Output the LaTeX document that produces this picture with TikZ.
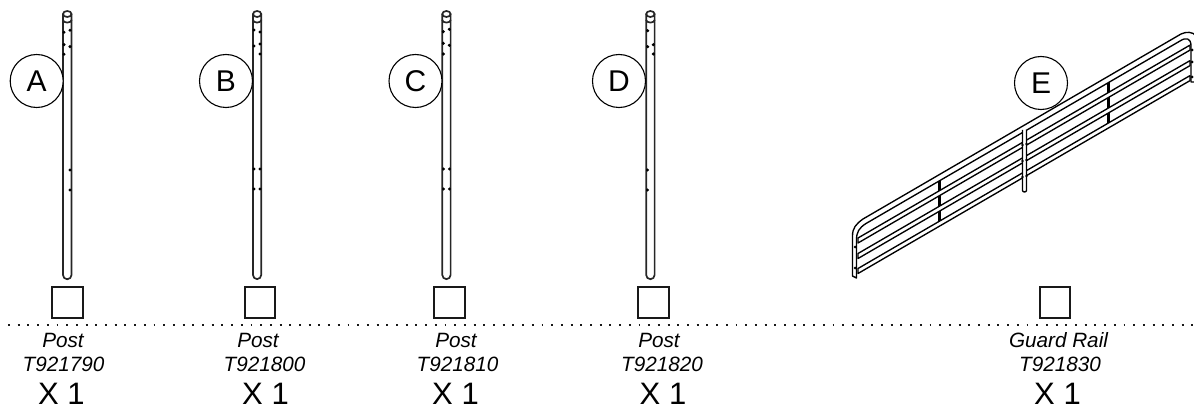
\documentclass[tikz,border=0pt]{standalone}
\usepackage{fontspec}
\setmainfont{Liberation Sans}
\tikzset{
  x=1pt,y=-1pt,
  postline/.style={line width=1.7pt,black!85},
  tray/.style={draw=black!90,line width=1.6pt,minimum size=30.5pt,inner sep=0pt,outer sep=0pt},
  callout/.style={circle,draw=black,fill=white,line width=1.1pt,minimum size=53pt,inner sep=0pt,font=\fontsize{30}{30}\selectfont},
  partname/.style={anchor=base,inner sep=0pt,font=\fontsize{20.7}{20.7}\selectfont\itshape,text=black},
  qty/.style={anchor=base,inner sep=0pt,font=\fontsize{31}{31}\selectfont,text=black},
  tube/.style={draw=black,fill=white,line width=1.35pt,line join=round},
  stile/.style={line width=2.4pt,black}
}
\newcommand{\drawpost}[2]{%
  % #1 left x, #2 right x
  \pgfmathsetmacro{\cx}{(#1+#2)/2}
  \pgfmathsetmacro{\rx}{(#2-#1)/2}
  \draw[postline] (#1,20) -- (#1,275) arc[start angle=180,end angle=0,x radius=\rx pt,y radius=-\rx pt] -- (#2,20);
  \draw[postline] (\cx,14) ellipse[x radius=\rx pt,y radius=3pt];
  \draw[postline] (#1,14) -- (#1,20) arc[start angle=180,end angle=0,x radius=\rx pt,y radius=-2.6pt] -- (#2,14);
}
\begin{document}
\begin{tikzpicture}
\useasboundingbox (0,0) rectangle (1194,409);
% posts
\drawpost{63}{71.5}
\drawpost{253}{261.2}
\drawpost{442.3}{450.6}
\drawpost{646.2}{654.6}
\foreach \a/\b in {64/32.3,70/30.3,64/44.7,70/46.7,64/54.3,70/170,70/190,
  254/30,260/32,254/46,260/44,260/54,254/169,260/169,254/189,260/189,
  443.3/31.7,449.3/29.3,443.3/43.3,449.3/45.3,443.3/54,443.5/169,449.5/169,443.5/189,449.5/189,
  647.7/30.7,647.7/46.7,653.3/44.7,653.3/54,647.5/170,647.5/190}
  {\fill[black] (\a,\b) circle[radius=1.7pt];}
% guard rail stiles
\draw[stile] (939.5,180) -- (939.5,224);
\draw[stile] (1108.5,82) -- (1108.5,126);
% lower rails
\foreach \ya/\yb in {238/243,253.5/258.5,268.5/273.5}{
  \path[tube] (858,\ya) -- (1190,\ya-192.9) -- (1190,\yb-192.9) -- (858,\yb) -- cycle;
}
% top rail with bends
\path[tube] (852.5,276) -- (852.5,236) .. controls (852.5,228) and (856,224) .. (863,219)
  -- (1181,34) .. controls (1186,31.5) and (1193,31.5) .. (1196,36) -- (1196,82) -- (1191,82)
  -- (1191,46) .. controls (1191,38) and (1186,37) .. (1180,41)
  -- (866,223.5) .. controls (859,228) and (856.5,232) .. (856.5,240) -- (856.5,278) -- cycle;
% rail end lugs
\foreach \a/\b in {855/247,855/268,1192/50,1192/62,1192/77}
  {\fill[black] (\a,\b) circle[radius=1.5pt];}
% centre post of the rail
\draw[tube] (1022.5,130) -- (1022.5,190.5) arc[start angle=180,end angle=0,x radius=2pt,y radius=-1.5pt] -- (1026.5,130);
\foreach \b in {144,160,176}{\fill[black] (1026.5,\b) circle[radius=1.3pt];\fill[black] (1022.5,\b+1) circle[radius=1.3pt];}
% callouts
\node[callout] (ca) at (36.7,81) {A};
\node[callout] (cb) at (226,81) {B};
\node[callout] (cc) at (415.5,81) {C};
\node[callout] (cd) at (619,81) {D};
\node[callout,fill=none] (ce) at (1041,83) {E};
% trays
\node[tray] (ta) at (67.5,302.5) {};
\node[tray] (tb) at (260,302.5) {};
\node[tray] (tc) at (449.5,302.5) {};
\node[tray] (td) at (653.5,302.5) {};
\node[tray] (te) at (1055,302.5) {};
% separator
\coordinate (sepl) at (8,325);
\coordinate (sepr) at (1194,325);
\draw[black!90,line width=1.9pt,dash pattern=on 1.9pt off 7.8pt] (sepl) -- (sepr);
% labels
\node[partname] (na) at (63,347) {Post};
\node[partname] (pa) at (63.5,371) {T921790};
\node[qty] (qa) at (61.5,404) {X 1};
\node[partname] (nb) at (258,347) {Post};
\node[partname] (pb) at (264.5,371) {T921800};
\node[qty] (qb) at (265.5,404) {X 1};
\node[partname] (nc) at (456,347) {Post};
\node[partname] (pc) at (457.5,371) {T921810};
\node[qty] (qc) at (455.5,404) {X 1};
\node[partname] (nd) at (659,347) {Post};
\node[partname] (pd) at (662,371) {T921820};
\node[qty] (qd) at (663,404) {X 1};
\node[partname] (ne) at (1058.5,347) {Guard Rail};
\node[partname] (pe) at (1060,371) {T921830};
\node[qty] (qe) at (1057.5,404) {X 1};
\end{tikzpicture}
\end{document}
